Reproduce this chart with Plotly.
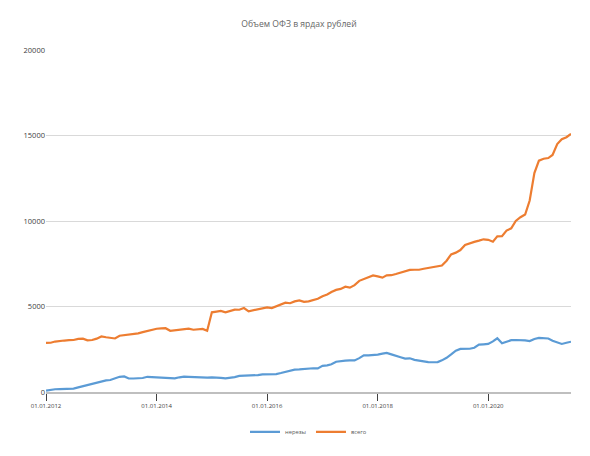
import plotly.graph_objects as go
import pandas as pd

dates = pd.date_range("2012-01-01", periods=115, freq="MS")

total = [
    2870, 2880, 2950, 3000, 3010, 3030, 3040, 3110, 3120, 3020, 3040, 3120,
    3250, 3200, 3150, 3130, 3290, 3320, 3340, 3380, 3430, 3500, 3580, 3650,
    3700, 3720, 3730, 3580, 3600, 3630, 3670, 3700, 3640, 3680, 3690, 3580,
    4660, 4700, 4740, 4660, 4750, 4820, 4810, 4910, 4720, 4780, 4850, 4920,
    4950, 4910, 5020, 5150, 5220, 5190, 5300, 5360, 5270, 5300, 5380, 5450,
    5600, 5700, 5850, 5970, 6030, 6160, 6100, 6250, 6500, 6620, 6720, 6820,
    6760, 6690, 6820, 6830, 6900, 6990, 7080, 7140, 7150, 7150, 7210, 7250,
    7300, 7350, 7400, 7680, 8050, 8150, 8300, 8600, 8700, 8780, 8850, 8930,
    8900, 8790, 9100, 9110, 9440, 9570, 10000, 10220, 10380, 11200, 12800, 13530,
    13640, 13680, 13860, 14500, 14780, 14900, 15100,
]

nonres = [
    80, 130, 160, 170, 180, 190, 200, 270, 340, 400, 480, 570,
    640, 680, 700, 790, 890, 910, 790, 790, 800, 820, 890, 870,
    850, 830, 800, 780, 800, 860, 900, 890, 870, 860, 840, 840,
    850, 860, 830, 800, 820, 870, 940, 950, 950, 950, 990, 1030,
    1040, 1010, 1050, 1110, 1170, 1240, 1310, 1320, 1340, 1400, 1390, 1380,
    1530, 1560, 1620, 1770, 1780, 1830, 1850, 1850, 1980, 2140, 2140, 2150,
    2190, 2240, 2290, 2200, 2100, 2030, 1950, 1970, 1880, 1830, 1780, 1750,
    1740, 1750, 1850, 2000, 2200, 2420, 2520, 2530, 2530, 2590, 2770, 2790,
    2810, 2960, 3140, 2850, 2960, 3030, 3040, 3040, 3020, 2980, 3100, 3160,
    3150, 3130, 3000, 2880, 2810, 2880, 2940,
]

series_names = ["нерезы", "всего"]
title_text = "Объем ОФЗ в ярдах рублей"
x_ticks = ["2012-01-01", "2014-01-01", "2016-01-01", "2018-01-01", "2020-01-01"]

fig = go.Figure()
fig.add_trace(go.Scatter(x=dates, y=nonres, mode="lines", name=series_names[0],
                         line=dict(color="#5b9bd5", width=2.2)))
fig.add_trace(go.Scatter(x=dates, y=total, mode="lines", name=series_names[1],
                         line=dict(color="#ed7d31", width=2.2)))

fig.update_layout(
    width=582, height=448,
    margin=dict(l=38, r=19, t=42, b=64, autoexpand=False),
    paper_bgcolor="white", plot_bgcolor="white",
    font=dict(family="Open Sans", color="#595959"),
    title=dict(text=title_text, x=0.5, xanchor="center", y=0.964, yanchor="middle",
               font=dict(size=8.6, color="#666666")),
    showlegend=True,
    legend=dict(orientation="h", x=0.5, xanchor="center",
                yref="container", y=0.054, yanchor="middle",
                font=dict(size=5.8, color="#595959"), itemwidth=30,
                traceorder="normal"),
    xaxis=dict(
        type="date", range=["2012-01-01", "2021-07-01"],
        tickvals=x_ticks, tickformat="%d.%m.%Y",
        ticks="outside", ticklen=7, tickcolor="#404040", tickwidth=1,
        showgrid=False, showline=True, linecolor="#bfbfbf", linewidth=1.5,
        tickfont=dict(size=6, color="#404040"), zeroline=False,
    ),
    yaxis=dict(
        range=[0, 20000], tickvals=[0, 5000, 10000, 15000, 20000],
        tickformat="d", showgrid=True, gridcolor="#d9d9d9", gridwidth=1,
        zeroline=False, showline=False, ticks="",
        tickfont=dict(size=7.5, color="#404040"),
    ),
)

fig.write_html("out.html")
